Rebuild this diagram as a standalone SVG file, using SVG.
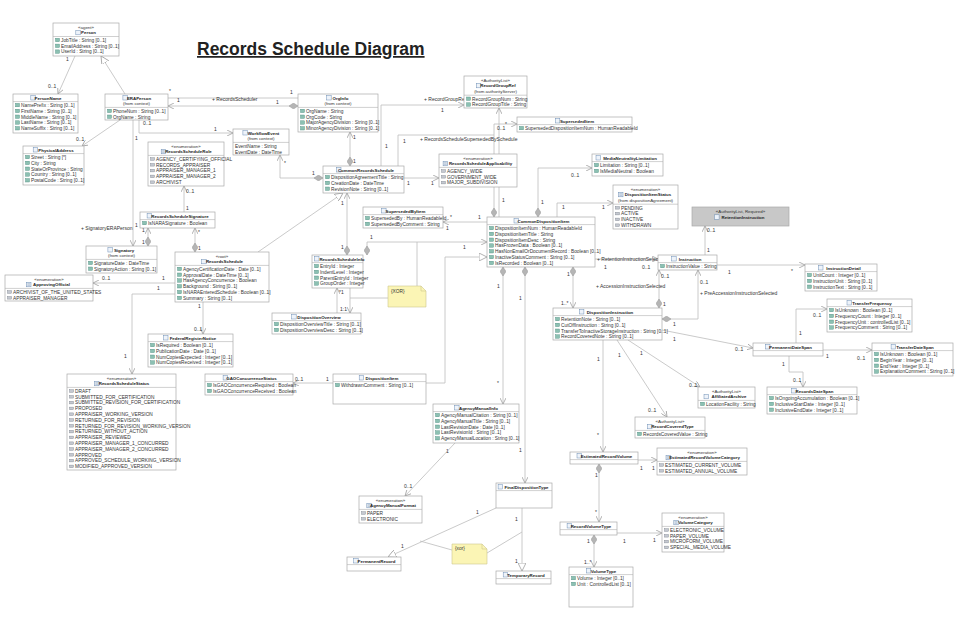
<svg xmlns="http://www.w3.org/2000/svg" xmlns:xlink="http://www.w3.org/1999/xlink" width="971" height="617" viewBox="0 0 971 617">
<style>
text{font-family:'Liberation Sans',Arial,sans-serif;fill:#222}
.b{fill:#fff;stroke:#a9a9a9;stroke-width:0.7}
.g{fill:#c8c8c8;stroke:#a9a9a9;stroke-width:0.7}
.sp{stroke:#b0b0b0;stroke-width:0.6}
.t{font-size:4.4px;font-weight:bold;text-anchor:middle}
.s{font-size:4.4px;text-anchor:middle;fill:#333}
.a{font-size:4.8px;fill:#333}
.ln{fill:none;stroke:#bdbdbd;stroke-width:0.8}
.m{font-size:5px;fill:#333}
.n{fill:#fbf5b5;stroke:#cfc78f;stroke-width:0.6}
</style>
<defs>
<rect id="ai" width="4" height="3.4" fill="#8cc0b2" stroke="#4b8d7f" stroke-width="0.4"/>
<rect id="li" width="4" height="2.6" fill="#c4c8d0" stroke="#7a808a" stroke-width="0.4"/>
<rect id="ci" width="4.5" height="4.5" fill="#eef3fa" stroke="#6f8fb5" stroke-width="0.5"/>
<g id="ei"><rect width="4.5" height="4.5" fill="#e2e8f0" stroke="#6f8fb5" stroke-width="0.5"/><path d="M1,1.5h2.5M1,3h2.5" stroke="#6f8fb5" stroke-width="0.4"/></g>
<marker id="arr" viewBox="0 0 6 6" refX="6" refY="3" markerWidth="6" markerHeight="6" markerUnits="userSpaceOnUse" orient="auto"><path d="M0,0 L6,3 L0,6" fill="none" stroke="#a0a0a0" stroke-width="0.8"/></marker>
<marker id="tri" viewBox="0 0 8 8" refX="8" refY="4" markerWidth="8" markerHeight="8" markerUnits="userSpaceOnUse" orient="auto"><path d="M0,0 L8,4 L0,8 Z" fill="#fff" stroke="#a0a0a0" stroke-width="0.8"/></marker>
<marker id="dia" viewBox="0 0 9 6" refX="0" refY="3" markerWidth="9" markerHeight="6" markerUnits="userSpaceOnUse" orient="auto"><path d="M0,3 L4.5,0 L9,3 L4.5,6 Z" fill="#b5b5b5" stroke="#999" stroke-width="0.5"/></marker>
</defs>
<rect width="971" height="617" fill="#fff"/>
<text x="197" y="55" font-size="17.5" font-weight="bold" text-decoration="underline" fill="#000">Records Schedule Diagram</text>

<g id="connectors">
<path class="ln" d="M75,56 L58,94" marker-end="url(#arr)"/>
<path class="ln" d="M125,94 L101,56" marker-end="url(#tri)"/>
<path class="ln" d="M120,120 L82,146" marker-end="url(#arr)"/>
<path class="ln" d="M168,98 L298,98"/>
<path class="ln" d="M298,106 L168,106" marker-start="url(#dia)" marker-end="url(#arr)"/>
<path class="ln" d="M139,120 L139,133 L233,133" marker-end="url(#arr)"/>
<path class="ln" d="M133,120 L133,246" marker-end="url(#arr)"/>
<path class="ln" d="M184,212 L184,186" marker-end="url(#arr)"/>
<path class="ln" d="M195,252 L195,228" marker-start="url(#dia)" marker-end="url(#arr)"/>
<path class="ln" d="M148,246 L148,228" marker-start="url(#dia)" marker-end="url(#arr)"/>
<path class="ln" d="M175,283 L93,283" marker-end="url(#arr)"/>
<path class="ln" d="M175,294 L132,294 L132,374" marker-end="url(#arr)"/>
<path class="ln" d="M203,302 L203,334" marker-end="url(#arr)"/>
<path class="ln" d="M258,252 L343,193" marker-end="url(#tri)"/>
<path class="ln" d="M350,166 L350,132" marker-start="url(#dia)" marker-end="url(#arr)"/>
<path class="ln" d="M323,178 L280,178 L280,155" marker-start="url(#dia)" marker-end="url(#arr)"/>
<path class="ln" d="M381,166 L381,105 L464,105" marker-end="url(#arr)"/>
<path class="ln" d="M398,166 L398,135 L494,135"/>
<path class="ln" d="M494,217 L494,124 L517,124" marker-start="url(#dia)" marker-end="url(#arr)"/>
<path class="ln" d="M499,217 L499,108" marker-end="url(#arr)"/>
<path class="ln" d="M538,217 L538,168 L592,168" marker-start="url(#dia)" marker-end="url(#arr)"/>
<path class="ln" d="M557,217 L557,203 L613,203" marker-end="url(#arr)"/>
<path class="ln" d="M404,178 L439,178" marker-end="url(#arr)"/>
<path class="ln" d="M347,255 L347,193" marker-start="url(#dia)" marker-end="url(#arr)"/>
<path class="ln" d="M487,222 L443,222" marker-end="url(#arr)"/>
<path class="ln" d="M367,255 L367,242 L487,242" marker-start="url(#dia)" marker-end="url(#arr)"/>
<path class="ln" d="M417,242 L417,286"/>
<path class="ln" d="M350,298 L388,298"/>
<path class="ln" d="M337,313 L337,288" marker-end="url(#arr)"/>
<path class="ln" d="M350,288 L350,313" marker-end="url(#arr)"/>
<path class="ln" d="M426,383 L445,383 L445,257 L487,257" marker-end="url(#tri)"/>
<path class="ln" d="M503,267 L503,404" marker-start="url(#dia)" marker-end="url(#arr)"/>
<path class="ln" d="M525,267 L525,483" marker-start="url(#dia)" marker-end="url(#arr)"/>
<path class="ln" d="M573,267 L573,308" marker-start="url(#dia)" marker-end="url(#arr)"/>
<path class="ln" d="M595,259 L658,259" marker-end="url(#arr)"/>
<path class="ln" d="M659,308 L659,270" marker-start="url(#dia)" marker-end="url(#arr)"/>
<path class="ln" d="M662,319 L698,319 L698,270" marker-start="url(#dia)" marker-end="url(#arr)"/>
<path class="ln" d="M717,265 L805,265" marker-end="url(#arr)"/>
<path class="ln" d="M705,255 L705,226" marker-end="url(#arr)"/>
<path class="ln" d="M662,330 L753,348" marker-end="url(#arr)"/>
<path class="ln" d="M796,343 L796,309 L827,309" marker-end="url(#arr)"/>
<path class="ln" d="M823,350 L872,350" marker-end="url(#arr)"/>
<path class="ln" d="M789,356 L789,372 L803,372 L803,387" marker-end="url(#arr)"/>
<path class="ln" d="M628,340 L700,387" marker-end="url(#arr)"/>
<path class="ln" d="M617,340 L667,417" marker-end="url(#arr)"/>
<path class="ln" d="M603,340 L603,452" marker-end="url(#arr)"/>
<path class="ln" d="M638,460 L657,460" marker-end="url(#arr)"/>
<path class="ln" d="M599,464 L599,522" marker-start="url(#dia)" marker-end="url(#arr)"/>
<path class="ln" d="M617,533 L662,533" marker-end="url(#arr)"/>
<path class="ln" d="M594,535 L594,567" marker-start="url(#dia)" marker-end="url(#arr)"/>
<path class="ln" d="M333,383 L293,383" marker-end="url(#arr)"/>
<path class="ln" d="M455,443 L405,496" marker-end="url(#arr)"/>
<path class="ln" d="M496,508 L388,557" marker-end="url(#tri)"/>
<path class="ln" d="M522,508 L522,571" marker-end="url(#tri)"/>
<path class="ln" d="M452,550 L420,541"/>
<path class="ln" d="M487,553 L522,532"/>
</g>

<g id="labels">
<text class="m" x="66" y="61">1</text><text class="m" x="48" y="88">0..1</text>
<text class="m" x="76" y="141">0..1</text><text class="m" x="143" y="125">0..1</text>
<text class="m" x="169" y="93">*</text><text class="m" x="177" y="102">1</text>
<text class="m" x="212" y="101">+ RecordsScheduler</text>
<text class="m" x="290" y="94">1</text><text class="m" x="276" y="104">1</text>
<text class="m" x="214" y="131">1</text><text class="m" x="135" y="140">1</text>
<text class="m" x="81" y="230">+ SignatoryERAPerson</text><text class="m" x="135" y="227">1</text>
<text class="m" x="186" y="193">0..1</text><text class="m" x="186" y="210">1</text>
<text class="m" x="198" y="234">*</text><text class="m" x="198" y="250">1</text>
<text class="m" x="142" y="232">1</text><text class="m" x="142" y="244">1</text>
<text class="m" x="102" y="280">0..1</text><text class="m" x="162" y="280">1</text><text class="m" x="157" y="290">1</text>
<text class="m" x="124" y="358">1</text>
<text class="m" x="198" y="308">1</text><text class="m" x="194" y="331">0..1</text>
<text class="m" x="353" y="139">1</text><text class="m" x="353" y="163">1</text>
<text class="m" x="284" y="165">*</text><text class="m" x="312" y="175">1</text>
<text class="m" x="424" y="101">+ RecordGroupRef</text>
<text class="m" x="441" y="112">1</text><text class="m" x="385" y="148">1</text>
<text class="m" x="403" y="143">1</text>
<text class="m" x="420" y="141">+ RecordsScheduleSupersededBySchedule</text>
<text class="m" x="497" y="130">0..1</text><text class="m" x="505" y="126">*</text>
<text class="m" x="502" y="202">1</text>
<text class="m" x="571" y="177">0..1</text><text class="m" x="541" y="204">1</text>
<text class="m" x="562" y="209">1</text><text class="m" x="602" y="209">1</text>
<text class="m" x="407" y="185">1</text><text class="m" x="431" y="185">1</text>
<text class="m" x="341" y="249">1</text><text class="m" x="341" y="205">1</text>
<text class="m" x="450" y="219">*</text><text class="m" x="478" y="219">1</text><text class="m" x="446" y="230">1</text>
<text class="m" x="370" y="239">1</text><text class="m" x="463" y="249">1</text>
<text class="m" x="339" y="294">*1</text><text class="m" x="340" y="311">1:1</text>
<text class="m" x="497" y="288">1</text><text class="m" x="497" y="385">*</text>
<text class="m" x="519" y="300">1</text><text class="m" x="519" y="452">1</text>
<text class="m" x="567" y="276">1</text><text class="m" x="561" y="305">1..*</text>
<text class="m" x="597" y="261">+ RetentionInstructionSelected</text>
<text class="m" x="604" y="269">1</text><text class="m" x="642" y="269">0..1</text>
<text class="m" x="596" y="288">+ AccessionInstructionSelected</text>
<text class="m" x="661" y="278">0..1</text><text class="m" x="663" y="306">1</text>
<text class="m" x="700" y="284">0..1</text>
<text class="m" x="700" y="295">+ PreAccessionInstructionSelected</text>
<text class="m" x="728" y="274">1</text><text class="m" x="791" y="273">*</text>
<text class="m" x="707" y="232">0..1</text><text class="m" x="707" y="252">1</text>
<text class="m" x="673" y="326">1</text><text class="m" x="673" y="341">1</text><text class="m" x="735" y="351">0..1</text>
<text class="m" x="813" y="317">0..1</text><text class="m" x="799" y="335">1</text>
<text class="m" x="826" y="358">1</text><text class="m" x="857" y="360">0..1</text>
<text class="m" x="782" y="366">1</text><text class="m" x="793" y="382">0..1</text>
<text class="m" x="640" y="355">1</text><text class="m" x="689" y="387">0..1</text>
<text class="m" x="618" y="357">1</text><text class="m" x="648" y="412">0..1</text>
<text class="m" x="597" y="361">1</text><text class="m" x="597" y="437">*</text>
<text class="m" x="640" y="470">1</text><text class="m" x="652" y="470">1</text>
<text class="m" x="595" y="477">1</text><text class="m" x="595" y="514">*</text>
<text class="m" x="623" y="543">1</text><text class="m" x="653" y="542">1</text>
<text class="m" x="587" y="543">1</text><text class="m" x="584" y="564">1..*</text>
<text class="m" x="295" y="381">0..1</text><text class="m" x="326" y="381">1</text>
<text class="m" x="446" y="453">1</text><text class="m" x="404" y="488">0..1</text>
<text class="m" x="476" y="514">1</text><text class="m" x="401" y="548">1</text>
<text class="m" x="515" y="521">1</text><text class="m" x="515" y="563">1</text>
</g>

<g id="Person"><rect class="b" x="53" y="23" width="66" height="33"/><text class="s" x="86" y="28.5">«agent»</text><use href="#ci" x="75.8" y="30.3"/><text class="t" x="88.5" y="34.3">Person</text><line class="sp" x1="53" y1="36.5" x2="119" y2="36.5"/>
<use href="#ai" x="55.5" y="38.3"/><text class="a" x="61" y="41.8">JobTitle : String [0..1]</text>
<use href="#ai" x="55.5" y="44.1"/><text class="a" x="61" y="47.6">EmailAddress : String [0..1]</text>
<use href="#ai" x="55.5" y="49.9"/><text class="a" x="61" y="53.4">UserId : String [0..1]</text></g>

<g id="PersonName"><rect class="b" x="13" y="94" width="65" height="39"/><use href="#ci" x="30.8" y="95.5"/><text class="t" x="48" y="99.5">PersonName</text><line class="sp" x1="13" y1="101.6" x2="78" y2="101.6"/>
<use href="#ai" x="15.5" y="103.4"/><text class="a" x="21" y="106.9">NamePrefix : String [0..1]</text>
<use href="#ai" x="15.5" y="109.2"/><text class="a" x="21" y="112.7">FirstName : String [0..1]</text>
<use href="#ai" x="15.5" y="115"/><text class="a" x="21" y="118.5">MiddleName : String [0..1]</text>
<use href="#ai" x="15.5" y="120.8"/><text class="a" x="21" y="124.3">LastName : String [0..1]</text>
<use href="#ai" x="15.5" y="126.6"/><text class="a" x="21" y="130.1">NameSuffix : String [0..1]</text></g>

<g id="ERAPerson"><rect class="b" x="105" y="94" width="63" height="26"/><use href="#ci" x="122.9" y="95.5"/><text class="t" x="139" y="99.5">ERAPerson</text><text class="s" x="136.5" y="105.3">(from context)</text><line class="sp" x1="105" y1="107.4" x2="168" y2="107.4"/>
<use href="#ai" x="107.5" y="109.2"/><text class="a" x="113" y="112.7">PhoneNum : String [0..1]</text>
<use href="#ai" x="107.5" y="115"/><text class="a" x="113" y="118.5">OrgName : String</text></g>

<g id="PhysicalAddress"><rect class="b" x="23" y="146" width="61" height="39"/><use href="#ci" x="33.2" y="147.5"/><text class="t" x="56" y="151.5">PhysicalAddress</text><line class="sp" x1="23" y1="153.6" x2="84" y2="153.6"/>
<use href="#ai" x="25.5" y="155.4"/><text class="a" x="31" y="158.9">Street : String [*]</text>
<use href="#ai" x="25.5" y="161.2"/><text class="a" x="31" y="164.7">City : String</text>
<use href="#ai" x="25.5" y="167"/><text class="a" x="31" y="170.5">StateOrProvince : String</text>
<use href="#ai" x="25.5" y="172.8"/><text class="a" x="31" y="176.3">Country : String [0..1]</text>
<use href="#ai" x="25.5" y="178.6"/><text class="a" x="31" y="182.1">PostalCode : String [0..1]</text></g>

<g id="RecordsScheduleRole"><rect class="b" x="148" y="142" width="76" height="44"/><text class="s" x="186" y="147.5">«enumeration»</text><use href="#ei" x="161.2" y="149.3"/><text class="t" x="188.5" y="153.3">RecordsScheduleRole</text><line class="sp" x1="148" y1="155.4" x2="224" y2="155.4"/>
<use href="#li" x="150.5" y="157.7"/><text class="a" x="156" y="160.7">AGENCY_CERTIFYING_OFFICIAL</text>
<use href="#li" x="150.5" y="163.5"/><text class="a" x="156" y="166.5">RECORDS_APPRAISER</text>
<use href="#li" x="150.5" y="169.3"/><text class="a" x="156" y="172.3">APPRAISER_MANAGER_1</text>
<use href="#li" x="150.5" y="175.1"/><text class="a" x="156" y="178.1">APPRAISER_MANAGER_2</text>
<use href="#li" x="150.5" y="180.9"/><text class="a" x="156" y="183.9">ARCHIVIST</text></g>

<g id="OrgInfo"><rect class="b" x="298" y="94" width="80" height="38"/><use href="#ci" x="326.7" y="95.5"/><text class="t" x="340.5" y="99.5">OrgInfo</text><text class="s" x="338" y="105.3">(from context)</text><line class="sp" x1="298" y1="107.4" x2="378" y2="107.4"/>
<use href="#ai" x="300.5" y="109.2"/><text class="a" x="306" y="112.7">OrgName : String</text>
<use href="#ai" x="300.5" y="115"/><text class="a" x="306" y="118.5">OrgCode : String</text>
<use href="#ai" x="300.5" y="120.8"/><text class="a" x="306" y="124.3">MajorAgencyDivision : String [0..1]</text>
<use href="#ai" x="300.5" y="126.6"/><text class="a" x="306" y="130.1">MinorAgencyDivision : String [0..1]</text></g>

<g id="WorkflowEvent"><rect class="b" x="233" y="129" width="56" height="26"/><use href="#ci" x="242.9" y="130.5"/><text class="t" x="263.5" y="134.5">WorkflowEvent</text><text class="s" x="261" y="140.3">(from context)</text><line class="sp" x1="233" y1="142.4" x2="289" y2="142.4"/>
<text class="a" x="235" y="147.7">EventName : String</text>
<text class="a" x="235" y="153.5">EventDate : DateTime</text></g>

<g id="CommonRecordsSchedule"><rect class="b" x="323" y="166" width="81" height="27"/><use href="#ci" x="336.5" y="167.5"/><text class="t" x="366" y="171.5">CommonRecordsSchedule</text><line class="sp" x1="323" y1="173.6" x2="404" y2="173.6"/>
<use href="#ai" x="325.5" y="175.4"/><text class="a" x="331" y="178.9">DispositionAgreementTitle : String</text>
<use href="#ai" x="325.5" y="181.2"/><text class="a" x="331" y="184.7">CreationDate : DateTime</text>
<use href="#ai" x="325.5" y="187"/><text class="a" x="331" y="190.5">RevisionNote : String [0..1]</text></g>

<g id="RecordsScheduleApplicability"><rect class="b" x="439" y="154" width="78" height="33"/><text class="s" x="478" y="159.5">«enumeration»</text><use href="#ei" x="443.1" y="161.3"/><text class="t" x="480.5" y="165.3">RecordsScheduleApplicability</text><line class="sp" x1="439" y1="167.4" x2="517" y2="167.4"/>
<use href="#li" x="441.5" y="169.7"/><text class="a" x="447" y="172.7">AGENCY_WIDE</text>
<use href="#li" x="441.5" y="175.5"/><text class="a" x="447" y="178.5">GOVERNMENT_WIDE</text>
<use href="#li" x="441.5" y="181.3"/><text class="a" x="447" y="184.3">MAJOR_SUBDIVISION</text></g>

<g id="RecordGroupRef"><rect class="b" x="464" y="76" width="63" height="32"/><text class="s" x="495.5" y="81.5">«AuthorityList»</text><use href="#ci" x="476.3" y="83.3"/><text class="t" x="498" y="87.3">RecordGroupRef</text><text class="s" x="495.5" y="93.1">(from authorityServer)</text><line class="sp" x1="464" y1="95.2" x2="527" y2="95.2"/>
<use href="#ai" x="466.5" y="97"/><text class="a" x="472" y="100.5">RecordGroupNum : String</text>
<use href="#ai" x="466.5" y="102.8"/><text class="a" x="472" y="106.3">RecordGroupTitle : String</text></g>

<g id="SupersededItem"><rect class="b" x="517" y="117" width="115" height="15"/><use href="#ci" x="555.3" y="118.5"/><text class="t" x="577" y="122.5">SupersededItem</text><line class="sp" x1="517" y1="124.6" x2="632" y2="124.6"/>
<use href="#ai" x="519.5" y="126.4"/><text class="a" x="525" y="129.9">SupersededDispositionItemNum : HumanReadableId</text></g>

<g id="MediaNeutralityLimitation"><rect class="b" x="592" y="154" width="71" height="22"/><use href="#ci" x="596" y="155.5"/><text class="t" x="630" y="159.5">MediaNeutralityLimitation</text><line class="sp" x1="592" y1="161.6" x2="663" y2="161.6"/>
<use href="#ai" x="594.5" y="163.4"/><text class="a" x="600" y="166.9">Limitation : String [0..1]</text>
<use href="#ai" x="594.5" y="169.2"/><text class="a" x="600" y="172.7">IsMediaNeutral : Boolean</text></g>

<g id="DispositionItemStatus"><rect class="b" x="613" y="185" width="65" height="44"/><text class="s" x="645.5" y="190.5">«enumeration»</text><use href="#ei" x="618.5" y="192.3"/><text class="t" x="648" y="196.3">DispositionItemStatus</text><text class="s" x="645.5" y="202.1">(from dispositionAgreement)</text><line class="sp" x1="613" y1="204.2" x2="678" y2="204.2"/>
<use href="#li" x="615.5" y="206.5"/><text class="a" x="621" y="209.5">PENDING</text>
<use href="#li" x="615.5" y="212.3"/><text class="a" x="621" y="215.3">ACTIVE</text>
<use href="#li" x="615.5" y="218.1"/><text class="a" x="621" y="221.1">INACTIVE</text>
<use href="#li" x="615.5" y="223.9"/><text class="a" x="621" y="226.9">WITHDRAWN</text></g>

<g id="RetentionInstruction"><rect class="g" x="692" y="207" width="97" height="19"/><text class="s" x="740.5" y="212.8">«AuthorityList, Required»</text><use href="#ci" x="714.6" y="214.8"/><text class="t" x="743" y="218.8">RetentionInstruction</text></g>

<g id="Instruction"><rect class="b" x="658" y="255" width="59" height="15"/><use href="#ci" x="671.7" y="256.5"/><text class="t" x="690" y="260.5">Instruction</text><line class="sp" x1="658" y1="262.6" x2="717" y2="262.6"/>
<use href="#ai" x="660.5" y="264.4"/><text class="a" x="666" y="267.9">InstructionValue : String</text></g>

<g id="InstructionDetail"><rect class="b" x="805" y="264" width="72" height="27"/><use href="#ci" x="818.5" y="265.5"/><text class="t" x="843.5" y="269.5">InstructionDetail</text><line class="sp" x1="805" y1="271.6" x2="877" y2="271.6"/>
<use href="#ai" x="807.5" y="273.4"/><text class="a" x="813" y="276.9">UnitCount : Integer [0..1]</text>
<use href="#ai" x="807.5" y="279.2"/><text class="a" x="813" y="282.7">InstructionUnit : String [0..1]</text>
<use href="#ai" x="807.5" y="285"/><text class="a" x="813" y="288.5">InstructionText : String [0..1]</text></g>

<g id="TransferFrequency"><rect class="b" x="827" y="299" width="85" height="33"/><use href="#ci" x="847" y="300.5"/><text class="t" x="872" y="304.5">TransferFrequency</text><line class="sp" x1="827" y1="306.6" x2="912" y2="306.6"/>
<use href="#ai" x="829.5" y="308.4"/><text class="a" x="835" y="311.9">IsUnknown : Boolean [0..1]</text>
<use href="#ai" x="829.5" y="314.2"/><text class="a" x="835" y="317.7">FrequencyCount : Integer [0..1]</text>
<use href="#ai" x="829.5" y="320"/><text class="a" x="835" y="323.5">FrequencyUnit : controlledList [0..1]</text>
<use href="#ai" x="829.5" y="325.8"/><text class="a" x="835" y="329.3">FrequencyComment : String [0..1]</text></g>

<g id="PermanentDateSpan"><rect class="b" x="753" y="343" width="70" height="13"/><use href="#ci" x="765.5" y="344.5"/><text class="t" x="790.5" y="348.5">PermanentDateSpan</text><line class="sp" x1="753" y1="350.6" x2="823" y2="350.6"/></g>

<g id="TransferDateSpan"><rect class="b" x="872" y="343" width="81" height="33"/><use href="#ci" x="891.1" y="344.5"/><text class="t" x="915" y="348.5">TransferDateSpan</text><line class="sp" x1="872" y1="350.6" x2="953" y2="350.6"/>
<use href="#ai" x="874.5" y="352.4"/><text class="a" x="880" y="355.9">IsUnknown : Boolean [0..1]</text>
<use href="#ai" x="874.5" y="358.2"/><text class="a" x="880" y="361.7">BeginYear : Integer [0..1]</text>
<use href="#ai" x="874.5" y="364"/><text class="a" x="880" y="367.5">EndYear : Integer [0..1]</text>
<use href="#ai" x="874.5" y="369.8"/><text class="a" x="880" y="373.3">ExplanationComment : String [0..1]</text></g>

<g id="RecordsDateSpan"><rect class="b" x="767" y="387" width="90" height="27"/><use href="#ci" x="791.7" y="388.5"/><text class="t" x="814.5" y="392.5">RecordsDateSpan</text><line class="sp" x1="767" y1="394.6" x2="857" y2="394.6"/>
<use href="#ai" x="769.5" y="396.4"/><text class="a" x="775" y="399.9">IsOngoingAccumulation : Boolean [0..1]</text>
<use href="#ai" x="769.5" y="402.2"/><text class="a" x="775" y="405.7">InclusiveStartDate : Integer [0..1]</text>
<use href="#ai" x="769.5" y="408"/><text class="a" x="775" y="411.5">InclusiveEndDate : Integer [0..1]</text></g>

<g id="RecordsScheduleSignature"><rect class="b" x="140" y="212" width="75" height="16"/><use href="#ci" x="147.1" y="213.5"/><text class="t" x="180" y="217.5">RecordsScheduleSignature</text><line class="sp" x1="140" y1="219.6" x2="215" y2="219.6"/>
<use href="#ai" x="142.5" y="221.4"/><text class="a" x="148" y="224.9">IsNARASignature : Boolean</text></g>

<g id="Signatory"><rect class="b" x="86" y="246" width="71" height="27"/><use href="#ci" x="107.9" y="247.5"/><text class="t" x="124" y="251.5">Signatory</text><text class="s" x="121.5" y="257.3">(from context)</text><line class="sp" x1="86" y1="259.4" x2="157" y2="259.4"/>
<use href="#ai" x="88.5" y="261.2"/><text class="a" x="94" y="264.7">SignatureDate : DateTime</text>
<use href="#ai" x="88.5" y="267"/><text class="a" x="94" y="270.5">SignatoryAction : String [0..1]</text></g>

<g id="ApprovingOfficial"><rect class="b" x="5" y="275" width="88" height="26"/><text class="s" x="49" y="280.5">«enumeration»</text><use href="#ei" x="26.5" y="282.3"/><text class="t" x="51.5" y="286.3">ApprovingOfficial</text><line class="sp" x1="5" y1="288.4" x2="93" y2="288.4"/>
<use href="#li" x="7.5" y="290.7"/><text class="a" x="13" y="293.7">ARCHIVIST_OF_THE_UNITED_STATES</text>
<use href="#li" x="7.5" y="296.5"/><text class="a" x="13" y="299.5">APPRAISER_MANAGER</text></g>

<g id="RecordsSchedule"><rect class="b" x="175" y="252" width="94" height="50"/><text class="s" x="222" y="257.5">«root»</text><use href="#ci" x="201.7" y="259.3"/><text class="t" x="224.5" y="263.3">RecordsSchedule</text><line class="sp" x1="175" y1="265.4" x2="269" y2="265.4"/>
<use href="#ai" x="177.5" y="267.2"/><text class="a" x="183" y="270.7">AgencyCertificationDate : Date [0..1]</text>
<use href="#ai" x="177.5" y="273"/><text class="a" x="183" y="276.5">ApprovalDate : DateTime [0..1]</text>
<use href="#ai" x="177.5" y="278.8"/><text class="a" x="183" y="282.3">HasAgencyConcurrence : Boolean</text>
<use href="#ai" x="177.5" y="284.6"/><text class="a" x="183" y="288.1">Background : String [0..1]</text>
<use href="#ai" x="177.5" y="290.4"/><text class="a" x="183" y="293.9">IsNARAEnteredSchedule : Boolean [0..1]</text>
<use href="#ai" x="177.5" y="296.2"/><text class="a" x="183" y="299.7">Summary : String [0..1]</text></g>

<g id="RecordsScheduleInfo"><rect class="b" x="312" y="255" width="51" height="33"/><use href="#ci" x="314.5" y="256.5"/><text class="t" x="342" y="260.5">RecordsScheduleInfo</text><line class="sp" x1="312" y1="262.6" x2="363" y2="262.6"/>
<use href="#ai" x="314.5" y="264.4"/><text class="a" x="320" y="267.9">EntryId : Integer</text>
<use href="#ai" x="314.5" y="270.2"/><text class="a" x="320" y="273.7">IndentLevel : Integer</text>
<use href="#ai" x="314.5" y="276"/><text class="a" x="320" y="279.5">ParentEntryId : Integer</text>
<use href="#ai" x="314.5" y="281.8"/><text class="a" x="320" y="285.3">GroupOrder : Integer</text></g>

<g id="SupersededByItem"><rect class="b" x="363" y="207" width="80" height="21"/><use href="#ci" x="381.6" y="208.5"/><text class="t" x="405.5" y="212.5">SupersededByItem</text><line class="sp" x1="363" y1="214.6" x2="443" y2="214.6"/>
<use href="#ai" x="365.5" y="216.4"/><text class="a" x="371" y="219.9">SupersededBy : HumanReadableId</text>
<use href="#ai" x="365.5" y="222.2"/><text class="a" x="371" y="225.7">SupersededByComment : String</text></g>

<g id="Note1"><path class="n" d="M388,286 H421 L426,291 V307 H388 Z"/><path d="M421,286 V291 H426" fill="none" stroke="#cfc78f" stroke-width="0.6"/><text class="a" x="391" y="293">{XOR}</text></g>

<g id="DispositionOverview"><rect class="b" x="272" y="313" width="89" height="21"/><use href="#ci" x="291.7" y="314.5"/><text class="t" x="319" y="318.5">DispositionOverview</text><line class="sp" x1="272" y1="320.6" x2="361" y2="320.6"/>
<use href="#ai" x="274.5" y="322.4"/><text class="a" x="280" y="325.9">DispositionOverviewTitle : String [0..1]</text>
<use href="#ai" x="274.5" y="328.2"/><text class="a" x="280" y="331.7">DispositionOverviewDesc : String [0..1]</text></g>

<g id="CommonDispositionItem"><rect class="b" x="487" y="217" width="108" height="50"/><use href="#ci" x="514" y="218.5"/><text class="t" x="543.5" y="222.5">CommonDispositionItem</text><line class="sp" x1="487" y1="224.6" x2="595" y2="224.6"/>
<use href="#ai" x="489.5" y="226.4"/><text class="a" x="495" y="229.9">DispositionItemNum : HumanReadableId</text>
<use href="#ai" x="489.5" y="232.2"/><text class="a" x="495" y="235.7">DispositionItemTitle : String</text>
<use href="#ai" x="489.5" y="238"/><text class="a" x="495" y="241.5">DispositionItemDesc : String</text>
<use href="#ai" x="489.5" y="243.8"/><text class="a" x="495" y="247.3">HasFrozenData : Boolean [0..1]</text>
<use href="#ai" x="489.5" y="249.6"/><text class="a" x="495" y="253.1">HasNonEmailOrDocumentRecord : Boolean [0..1]</text>
<use href="#ai" x="489.5" y="255.4"/><text class="a" x="495" y="258.9">InactiveStatusComment : String [0..1]</text>
<use href="#ai" x="489.5" y="261.2"/><text class="a" x="495" y="264.7">IsRecorded : Boolean [0..1]</text></g>

<g id="DispositionInstruction"><rect class="b" x="553" y="308" width="109" height="32"/><use href="#ci" x="579.4" y="309.5"/><text class="t" x="610" y="313.5">DispositionInstruction</text><line class="sp" x1="553" y1="315.6" x2="662" y2="315.6"/>
<use href="#ai" x="555.5" y="317.4"/><text class="a" x="561" y="320.9">RetentionNote : String [0..1]</text>
<use href="#ai" x="555.5" y="323.2"/><text class="a" x="561" y="326.7">CutOffInstruction : String [0..1]</text>
<use href="#ai" x="555.5" y="329"/><text class="a" x="561" y="332.5">TransferToInactiveStorageInstruction : String [0..1]</text>
<use href="#ai" x="555.5" y="334.8"/><text class="a" x="561" y="338.3">RecordCoveredNote : String [0..1]</text></g>

<g id="AffiliatedArchive"><rect class="b" x="698" y="387" width="57" height="21"/><text class="s" x="726.5" y="392.5">«AuthorityList»</text><use href="#ci" x="704" y="394.3"/><text class="t" x="729" y="398.3">AffiliatedArchive</text><line class="sp" x1="698" y1="400.4" x2="755" y2="400.4"/>
<use href="#ai" x="700.5" y="402.2"/><text class="a" x="706" y="405.7">LocationFacility : String</text></g>

<g id="RecordCoveredType"><rect class="b" x="635" y="417" width="70" height="21"/><text class="s" x="670" y="422.5">«AuthorityList»</text><use href="#ci" x="647.5" y="424.3"/><text class="t" x="672.5" y="428.3">RecordCoveredType</text><line class="sp" x1="635" y1="430.4" x2="705" y2="430.4"/>
<use href="#ai" x="637.5" y="432.2"/><text class="a" x="643" y="435.7">RecordsCoveredValue : String</text></g>

<g id="EstimatedRecordVolume"><rect class="b" x="570" y="452" width="68" height="12"/><use href="#ci" x="577" y="453.5"/><text class="t" x="606.5" y="457.5">EstimatedRecordVolume</text><line class="sp" x1="570" y1="459.6" x2="638" y2="459.6"/></g>

<g id="EstimatedRecordVolumeCategory"><rect class="b" x="657" y="448" width="90" height="27"/><text class="s" x="702" y="453.5">«enumeration»</text><use href="#ei" x="666" y="455.3"/><text class="t" x="704.5" y="459.3">EstimatedRecordVolumeCategory</text><line class="sp" x1="657" y1="461.4" x2="747" y2="461.4"/>
<use href="#li" x="659.5" y="463.7"/><text class="a" x="665" y="466.7">ESTIMATED_CURRENT_VOLUME</text>
<use href="#li" x="659.5" y="469.5"/><text class="a" x="665" y="472.5">ESTIMATED_ANNUAL_VOLUME</text></g>

<g id="RecordVolumeType"><rect class="b" x="560" y="522" width="57" height="13"/><use href="#ci" x="567.1" y="523.5"/><text class="t" x="591" y="527.5">RecordVolumeType</text><line class="sp" x1="560" y1="529.6" x2="617" y2="529.6"/></g>

<g id="VolumeCategory"><rect class="b" x="662" y="513" width="62" height="39"/><text class="s" x="693" y="518.5">«enumeration»</text><use href="#ei" x="673.8" y="520.3"/><text class="t" x="695.5" y="524.3">VolumeCategory</text><line class="sp" x1="662" y1="526.4" x2="724" y2="526.4"/>
<use href="#li" x="664.5" y="528.7"/><text class="a" x="670" y="531.7">ELECTRONIC_VOLUME</text>
<use href="#li" x="664.5" y="534.5"/><text class="a" x="670" y="537.5">PAPER_VOLUME</text>
<use href="#li" x="664.5" y="540.3"/><text class="a" x="670" y="543.3">MICROFORM_VOLUME</text>
<use href="#li" x="664.5" y="546.1"/><text class="a" x="670" y="549.1">SPECIAL_MEDIA_VOLUME</text></g>

<g id="VolumeType"><rect class="b" x="569" y="567" width="64" height="40"/><use href="#ci" x="586.3" y="568.5"/><text class="t" x="603.5" y="572.5">VolumeType</text><line class="sp" x1="569" y1="574.6" x2="633" y2="574.6"/>
<use href="#ai" x="571.5" y="576.4"/><text class="a" x="577" y="579.9">Volume : Integer [0..1]</text>
<use href="#ai" x="571.5" y="582.2"/><text class="a" x="577" y="585.7">Unit : ControlledList [0..1]</text></g>

<g id="FederalRegisterNotice"><rect class="b" x="148" y="334" width="85" height="33"/><use href="#ci" x="163.5" y="335.5"/><text class="t" x="193" y="339.5">FederalRegisterNotice</text><line class="sp" x1="148" y1="341.6" x2="233" y2="341.6"/>
<use href="#ai" x="150.5" y="343.4"/><text class="a" x="156" y="346.9">IsRequired : Boolean [0..1]</text>
<use href="#ai" x="150.5" y="349.2"/><text class="a" x="156" y="352.7">PublicationDate : Date [0..1]</text>
<use href="#ai" x="150.5" y="355"/><text class="a" x="156" y="358.5">NumCopiesExpected : Integer [0..1]</text>
<use href="#ai" x="150.5" y="360.8"/><text class="a" x="156" y="364.3">NumCopiesReceived : Integer [0..1]</text></g>

<g id="RecordsScheduleStatus"><rect class="b" x="67" y="374" width="109" height="96"/><text class="s" x="121.5" y="379.5">«enumeration»</text><use href="#ei" x="94.5" y="381.3"/><text class="t" x="124" y="385.3">RecordsScheduleStatus</text><line class="sp" x1="67" y1="387.4" x2="176" y2="387.4"/>
<use href="#li" x="69.5" y="389.7"/><text class="a" x="75" y="392.7">DRAFT</text>
<use href="#li" x="69.5" y="395.5"/><text class="a" x="75" y="398.5">SUBMITTED_FOR_CERTIFICATION</text>
<use href="#li" x="69.5" y="401.3"/><text class="a" x="75" y="404.3">SUBMITTED_REVISION_FOR_CERTIFICATION</text>
<use href="#li" x="69.5" y="407.1"/><text class="a" x="75" y="410.1">PROPOSED</text>
<use href="#li" x="69.5" y="412.9"/><text class="a" x="75" y="415.9">APPRAISER_WORKING_VERSION</text>
<use href="#li" x="69.5" y="418.7"/><text class="a" x="75" y="421.7">RETURNED_FOR_REVISION</text>
<use href="#li" x="69.5" y="424.5"/><text class="a" x="75" y="427.5">RETURNED_FOR_REVISION_WORKING_VERSION</text>
<use href="#li" x="69.5" y="430.3"/><text class="a" x="75" y="433.3">RETURNED_WITHOUT_ACTION</text>
<use href="#li" x="69.5" y="436.1"/><text class="a" x="75" y="439.1">APPRAISER_REVIEWED</text>
<use href="#li" x="69.5" y="441.9"/><text class="a" x="75" y="444.9">APPRAISER_MANAGER_1_CONCURRED</text>
<use href="#li" x="69.5" y="447.7"/><text class="a" x="75" y="450.7">APPRAISER_MANAGER_2_CONCURRED</text>
<use href="#li" x="69.5" y="453.5"/><text class="a" x="75" y="456.5">APPROVED</text>
<use href="#li" x="69.5" y="459.3"/><text class="a" x="75" y="462.3">APPROVED_SCHEDULE_WORKING_VERSION</text>
<use href="#li" x="69.5" y="465.1"/><text class="a" x="75" y="468.1">MODIFIED_APPROVED_VERSION</text></g>

<g id="GAOConcurrenceStatus"><rect class="b" x="205" y="374" width="88" height="21"/><use href="#ci" x="223.1" y="375.5"/><text class="t" x="251.5" y="379.5">GAOConcurrenceStatus</text><line class="sp" x1="205" y1="381.6" x2="293" y2="381.6"/>
<use href="#ai" x="207.5" y="383.4"/><text class="a" x="213" y="386.9">IsGAOConcurrenceRequired : Boolean</text>
<use href="#ai" x="207.5" y="389.2"/><text class="a" x="213" y="392.7">IsGAOConcurrenceReceived : Boolean</text></g>

<g id="DispositionItem"><rect class="b" x="333" y="374" width="93" height="30"/><use href="#ci" x="359.2" y="375.5"/><text class="t" x="382" y="379.5">DispositionItem</text><line class="sp" x1="333" y1="381.6" x2="426" y2="381.6"/>
<use href="#ai" x="335.5" y="383.4"/><text class="a" x="341" y="386.9">WithdrawnComment : String [0..1]</text></g>

<g id="AgencyManualInfo"><rect class="b" x="433" y="404" width="86" height="39"/><use href="#ci" x="454.6" y="405.5"/><text class="t" x="478.5" y="409.5">AgencyManualInfo</text><line class="sp" x1="433" y1="411.6" x2="519" y2="411.6"/>
<use href="#ai" x="435.5" y="413.4"/><text class="a" x="441" y="416.9">AgencyManualCitation : String [0..1]</text>
<use href="#ai" x="435.5" y="419.2"/><text class="a" x="441" y="422.7">AgencyManualTitle : String [0..1]</text>
<use href="#ai" x="435.5" y="425"/><text class="a" x="441" y="428.5">LastRevisionDate : Date [0..1]</text>
<use href="#ai" x="435.5" y="430.8"/><text class="a" x="441" y="434.3">LastRevisionId : String [0..1]</text>
<use href="#ai" x="435.5" y="436.6"/><text class="a" x="441" y="440.1">AgencyManualLocation : String [0..1]</text></g>

<g id="AgencyManualFormat"><rect class="b" x="359" y="496" width="63" height="27"/><text class="s" x="390.5" y="501.5">«enumeration»</text><use href="#ei" x="366.8" y="503.3"/><text class="t" x="393" y="507.3">AgencyManualFormat</text><line class="sp" x1="359" y1="509.4" x2="422" y2="509.4"/>
<use href="#li" x="361.5" y="511.7"/><text class="a" x="367" y="514.7">PAPER</text>
<use href="#li" x="361.5" y="517.5"/><text class="a" x="367" y="520.5">ELECTRONIC</text></g>

<g id="FinalDispositionType"><rect class="b" x="496" y="483" width="56" height="25"/><use href="#ci" x="498.1" y="484.5"/><text class="t" x="526.5" y="488.5">FinalDispositionType</text><line class="sp" x1="496" y1="490.6" x2="552" y2="490.6"/></g>

<g id="PermanentRecord"><rect class="b" x="347" y="557" width="54" height="14"/><use href="#ci" x="353.7" y="558.5"/><text class="t" x="376.5" y="562.5">PermanentRecord</text><line class="sp" x1="347" y1="564.6" x2="401" y2="564.6"/></g>

<g id="TemporaryRecord"><rect class="b" x="496" y="571" width="55" height="13"/><use href="#ci" x="503.2" y="572.5"/><text class="t" x="526" y="576.5">TemporaryRecord</text><line class="sp" x1="496" y1="578.6" x2="551" y2="578.6"/></g>

<g id="Note2"><path class="n" d="M452,544 H482 L487,549 V564 H452 Z"/><path d="M482,544 V549 H487" fill="none" stroke="#cfc78f" stroke-width="0.6"/><text class="a" x="455" y="550">{xor}</text></g>
</svg>
